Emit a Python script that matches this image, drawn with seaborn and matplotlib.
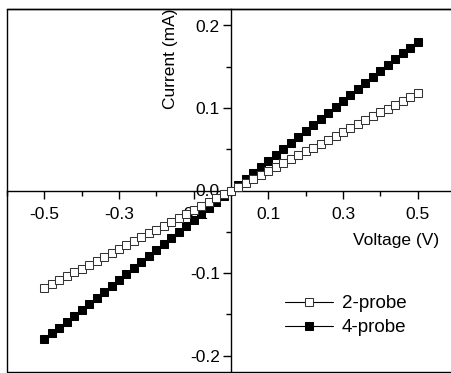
import numpy as np
import pandas as pd
import matplotlib
matplotlib.use("Agg")
import matplotlib.pyplot as plt
from matplotlib.patches import Rectangle
from matplotlib.ticker import MultipleLocator
import seaborn as sns

voltage = [-0.50, -0.48, -0.46, -0.44, -0.42, -0.40, -0.38, -0.36, -0.34, -0.32,
           -0.30, -0.28, -0.26, -0.24, -0.22, -0.20, -0.18, -0.16, -0.14, -0.12,
           -0.10, -0.08, -0.06, -0.04, -0.02, 0.00, 0.02, 0.04, 0.06, 0.08,
           0.10, 0.12, 0.14, 0.16, 0.18, 0.20, 0.22, 0.24, 0.26, 0.28,
           0.30, 0.32, 0.34, 0.36, 0.38, 0.40, 0.42, 0.44, 0.46, 0.48, 0.50]

current_2probe = [-0.1182, -0.1135, -0.1087, -0.1040, -0.0993, -0.0946, -0.0898, -0.0851, -0.0804, -0.0756,
                  -0.0709, -0.0662, -0.0615, -0.0567, -0.0520, -0.0473, -0.0426, -0.0378, -0.0331, -0.0284,
                  -0.0236, -0.0189, -0.0142, -0.0095, -0.0047, 0.0000, 0.0047, 0.0095, 0.0142, 0.0189,
                  0.0236, 0.0284, 0.0331, 0.0378, 0.0426, 0.0473, 0.0520, 0.0567, 0.0615, 0.0662,
                  0.0709, 0.0756, 0.0804, 0.0851, 0.0898, 0.0946, 0.0993, 0.1040, 0.1087, 0.1135, 0.1182]

current_4probe = [-0.1805, -0.1733, -0.1661, -0.1588, -0.1516, -0.1444, -0.1372, -0.1300, -0.1227, -0.1155,
                  -0.1083, -0.1011, -0.0939, -0.0866, -0.0794, -0.0722, -0.0650, -0.0578, -0.0505, -0.0433,
                  -0.0361, -0.0289, -0.0217, -0.0144, -0.0072, 0.0000, 0.0072, 0.0144, 0.0217, 0.0289,
                  0.0361, 0.0433, 0.0505, 0.0578, 0.0650, 0.0722, 0.0794, 0.0866, 0.0939, 0.1011,
                  0.1083, 0.1155, 0.1227, 0.1300, 0.1372, 0.1444, 0.1516, 0.1588, 0.1661, 0.1733, 0.1805]

x_ticks = [-0.5, -0.3, -0.1, 0.1, 0.3, 0.5]
y_ticks = [-0.2, -0.1, 0.0, 0.1, 0.2]

sns.set_style("white")
plt.rcParams['font.family'] = ['Liberation Sans', 'DejaVu Sans']
plt.rcParams['axes.unicode_minus'] = False

fig = plt.figure(figsize=(4.51, 3.73), dpi=100)
ax = fig.add_axes([7/451, 1/373, 448/451, 363/373])

sns.lineplot(x=voltage, y=current_4probe, ax=ax, color='black', lw=0.8,
             marker='s', markersize=5.5, markerfacecolor='black', markeredgecolor='black',
             label='4-probe', zorder=3)
sns.lineplot(x=voltage, y=current_2probe, ax=ax, color='black', lw=0.8,
             marker='s', markersize=5.5, markerfacecolor='white', markeredgecolor='#333333',
             label='2-probe', zorder=4)

ax.set_xlim(-0.6, 0.6)
ax.set_ylim(-0.22, 0.22)

# eixos cruzando na origem
ax.spines['left'].set_position('zero')
ax.spines['bottom'].set_position('zero')
ax.spines['right'].set_visible(False)
for s in ['left', 'bottom', 'top']:
    ax.spines[s].set_color('black')
    ax.spines[s].set_linewidth(1.0)

# moldura externa
ax.add_patch(Rectangle((0, 0), 1, 1, transform=ax.transAxes, fill=False,
                       edgecolor='black', lw=1.0, clip_on=False, zorder=5))

ax.set_xticks(x_ticks)
ax.set_xticklabels([f"{v:.1f}" for v in x_ticks])
ax.xaxis.set_minor_locator(MultipleLocator(0.1))
ax.set_yticks(y_ticks)
ax.set_yticklabels([f"{v:.1f}" for v in y_ticks])
ax.yaxis.set_minor_locator(MultipleLocator(0.05))
ax.tick_params(which='major', direction='out', length=6, width=1, labelsize=12.5,
               color='black', labelcolor='black')
ax.tick_params(which='minor', direction='out', length=3.5, width=1, color='black')
ax.tick_params(axis='x', which='major', pad=6)
ax.tick_params(axis='y', which='major', pad=2)
ax.tick_params(axis='x', which='both', bottom=True)
ax.tick_params(axis='y', which='both', left=True)
ax.set_axisbelow(True)

ax.set_xlabel('Voltage (V)', fontsize=12.5, color='black')
ax.set_ylabel('Current (mA)', fontsize=12.5, color='black')
ax.xaxis.set_label_coords(0.868, 0.361)
ax.yaxis.set_label_coords(0.364, 0.862)
ax.xaxis.label.set_va('center')
ax.yaxis.label.set_va('center')

handles, labels = ax.get_legend_handles_labels()
leg = ax.legend(handles[::-1], labels[::-1], loc='center left', bbox_to_anchor=(0.582, 0.155),
                frameon=False, fontsize=13.5, handlelength=2.6, handletextpad=0.45,
                labelspacing=0.38, borderpad=0.4)
for t in leg.get_texts():
    t.set_color('black')

fig.savefig('out.png', dpi=100)
